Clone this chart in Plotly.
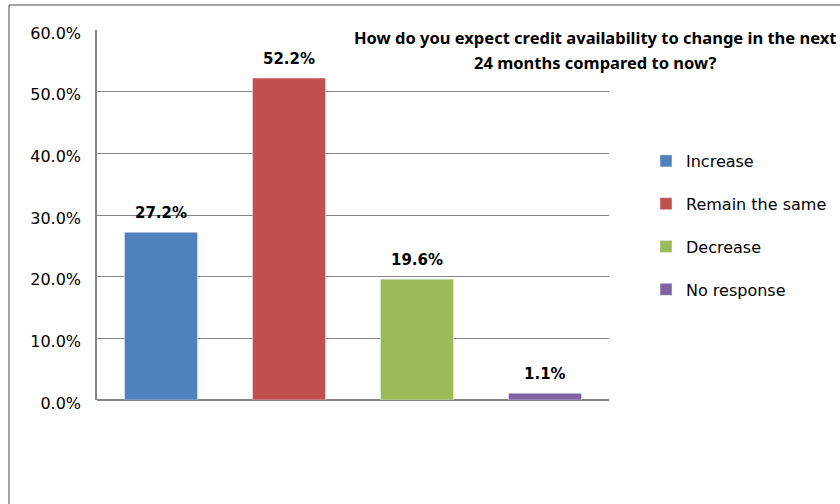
import plotly.graph_objects as go

categories = ["Increase", "Remain the same", "Decrease", "No response"]
values = [27.2, 52.2, 19.6, 1.1]
colors = ["#4F81BD", "#C0504D", "#9BBB59", "#8064A2"]
y_ticks = [0, 10, 20, 30, 40, 50, 60]
y_tick_labels = [f"{v:.1f}%" for v in y_ticks]
title_lines = [
    "How do you expect credit availability to change in the next",
    "24 months compared to now?",
]

BODY_FONT = "DejaVu Sans"
TITLE_FONT = "Noto Sans"

# plot area in pixels
L, R, T, B = 97, 231, 30, 104
PW, PH = 840 - L - R, 504 - T - B

fig = go.Figure()
for cat, val, col in zip(categories, values, colors):
    fig.add_trace(go.Bar(
        x=[cat], y=[val], name=cat, marker_color=col, width=0.57,
        legendgroup=cat,
    ))

# value labels above each bar
annotations = [
    dict(x=cat, y=val, xref="x", yref="y", text=f"{val:.1f}%",
         showarrow=False, yanchor="middle", yshift=19,
         font=dict(family=BODY_FONT, size=15, color="black", weight="bold"))
    for cat, val in zip(categories, values)
]

# two-line chart title
for i, line in enumerate(title_lines):
    annotations.append(dict(
        text=line, xref="paper", yref="paper",
        x=(595 - L) / PW, y=(504 - B - (37 + 25 * i)) / PH,
        xanchor="center", yanchor="middle", showarrow=False,
        font=dict(family=TITLE_FONT, size=16.5, color="black", weight="bold"),
    ))

fig.update_layout(
    width=840, height=504,
    margin=dict(l=L, r=R, t=T, b=B, autoexpand=False),
    paper_bgcolor="white", plot_bgcolor="white",
    barmode="overlay",
    showlegend=True,
    legend=dict(
        x=(646 - L) / PW, y=(504 - B - 144) / PH, xanchor="left", yanchor="top",
        font=dict(family=BODY_FONT, size=16, color="black"),
        tracegroupgap=19, itemwidth=30,
    ),
    xaxis=dict(showticklabels=False, showline=False, showgrid=False, ticks=""),
    yaxis=dict(
        range=[0, 60], tickvals=y_ticks, ticktext=y_tick_labels,
        showgrid=True, gridcolor="#868686", gridwidth=1,
        showline=True, linecolor="#868686", linewidth=1.5,
        ticks="", ticklabelstandoff=11, ticklabelshift=3,
        tickfont=dict(family=BODY_FONT, size=16, color="black"),
        zeroline=True, zerolinecolor="#868686", zerolinewidth=2,
    ),
    annotations=annotations,
)

# outer chart frame (left and top edges)
fx = (9 - L) / PW
fy = (504 - B - 5) / PH
fig.add_shape(type="line", xref="paper", yref="paper",
              x0=fx, x1=fx, y0=-B / PH, y1=fy,
              line=dict(color="#868686", width=1.5))
fig.add_shape(type="line", xref="paper", yref="paper",
              x0=fx, x1=(840 - L) / PW, y0=fy, y1=fy,
              line=dict(color="#868686", width=1.5))

fig.write_html("out.html")
